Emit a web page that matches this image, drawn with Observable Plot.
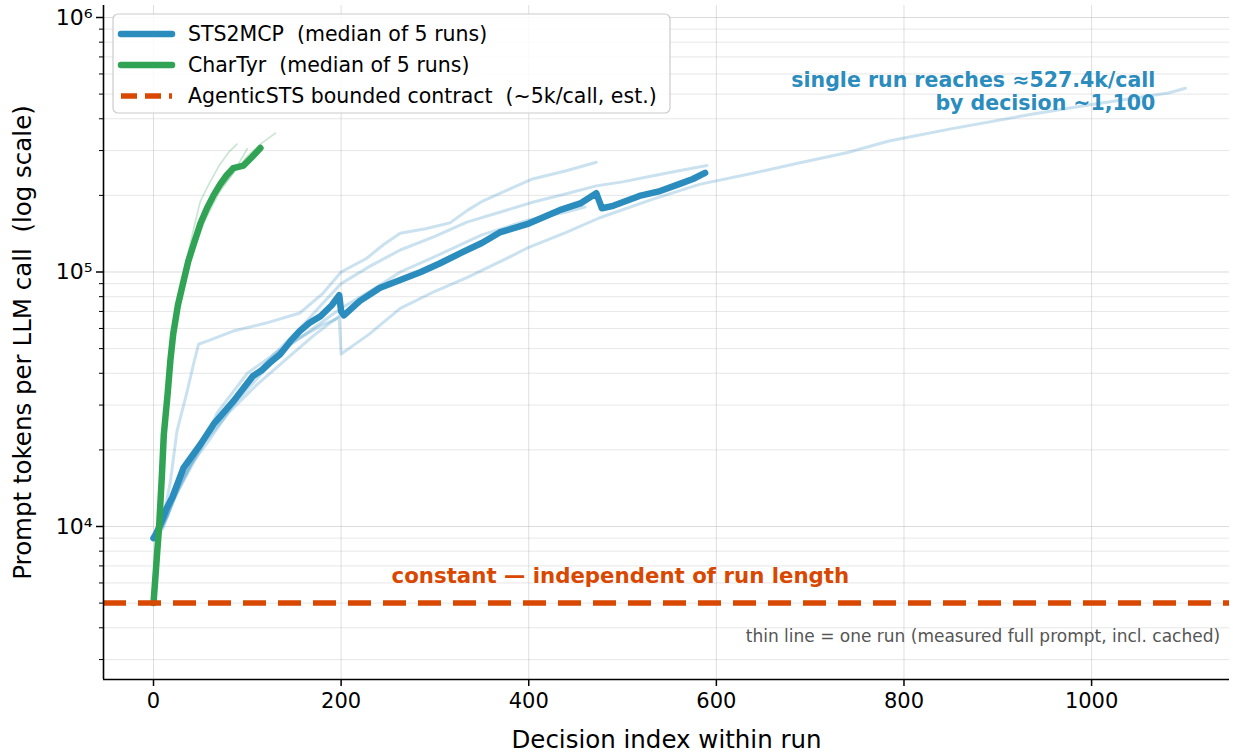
<!DOCTYPE html>
<html>
<head>
<meta charset="utf-8">
<script src="https://cdn.jsdelivr.net/npm/d3@7"></script>
<script src="https://cdn.jsdelivr.net/npm/@observablehq/plot@0.6"></script>
<style>
  html, body { margin: 0; padding: 0; background: #fff; }
  #chart { width: 1233px; height: 753px; overflow: hidden; }
</style>
</head>
<body>
<div id="chart"></div>
<script>
// ---------- data ----------
const xTicks = [0, 200, 400, 600, 800, 1000];
const yMajor = [1e4, 1e5, 1e6];
const yMinor = [3000, 4000, 5000, 6000, 7000, 8000, 9000,
  20000, 30000, 40000, 50000, 60000, 70000, 80000, 90000,
  200000, 300000, 400000, 500000, 600000, 700000, 800000, 900000];
const supers = {4: "⁴", 5: "⁵", 6: "⁶"};

const seriesNames = ["STS2MCP  (median of 5 runs)", "CharTyr  (median of 5 runs)", "AgenticSTS bounded contract  (~5k/call, est.)"];
const agenticValue = 5000;

// STS2MCP median (decision, prompt tokens)
const stsMedian = [[0,9000],[3,9400],[8,10300],[14,11800],[20,13000],[32,17000],[50,21000],[65,25500],[85,31000],[106,39000],[115,41000],[124,44000],[135,47500],[146,53500],[156,58600],[166,63000],[178,67000],[190,74000],[198,81000],[200,70000],[203,67500],[220,77000],[241,86500],[263,93000],[285,100000],[305,108000],[330,120000],[350,130000],[369,143000],[400,155000],[433,175000],[455,186000],[472,204000],[478,178000],[490,182000],[518,199000],[540,208000],[561,222000],[575,232000],[588,245000]];
// CharTyr median
const charMedian = [[0,5000],[2,6300],[4,8000],[6,10000],[9,16000],[11,23000],[15,33000],[18,45000],[21,57000],[26,74000],[32,92000],[37,110000],[43,129000],[50,155000],[57,178000],[64,200000],[71,221000],[78,240000],[85,256000],[96,262000],[105,283000],[114,307000]];

// STS2MCP single runs
const stsRun1 = [[0,9000],[10,10500],[18,15000],[25,23700],[35,33000],[43,44000],[48,52000],[60,54000],[85,58600],[120,63000],[156,69000],[180,82000],[200,100000],[227,113000],[245,128000],[263,142000],[290,148000],[316,156000],[335,175000],[351,190000],[380,212000],[404,232000],[440,250000],[472,270000]];
const stsRun2 = [[0,9000],[15,11000],[30,15500],[50,21000],[70,27000],[100,37000],[130,48000],[156,60000],[180,75000],[200,90000],[230,105000],[263,122000],[300,138000],[334,157000],[370,172000],[404,188000],[440,203000],[472,218000],[500,226000],[530,238000],[560,250000],[590,262000]];
const stsRun3 = [[0,9000],[10,9800],[20,12500],[40,17500],[60,22000],[85,30000],[110,38000],[140,50000],[170,60000],[200,72000],[240,88000],[263,100000],[300,115000],[350,140000],[400,160000],[440,172000],[460,180000]];
const stsRun4 = [[0,9000],[10,10000],[25,13500],[50,20000],[68,28000],[100,40000],[130,48000],[156,55000],[180,62000],[198,66000],[200,47600],[230,57000],[263,72000],[300,84000],[334,95000],[370,110000],[398,124000],[440,143000],[475,163000],[530,192000],[582,221000],[640,245000],[688,268000],[740,295000],[784,327000],[850,365000],[936,417000],[1000,455000],[1050,485000],[1082,505000],[1100,527400]];
const stsRun5 = [[0,9000],[10,10200],[30,15000],[50,20500],[80,28000],[110,36000],[140,45000],[170,56000],[200,68000],[240,84000]];

// CharTyr single runs
const charRun1 = [[0,5000],[3,7000],[6,11000],[10,20000],[15,34000],[20,55000],[28,85000],[36,115000],[45,160000],[50,190000],[60,225000],[70,262000],[80,295000],[89,318000]];
const charRun2 = [[0,5000],[3,6500],[7,11000],[12,22000],[17,38000],[23,60000],[32,90000],[42,120000],[55,160000],[70,205000],[85,245000],[100,285000],[115,320000],[130,351000]];
const charRun3 = [[0,5000],[4,7500],[8,13000],[13,25000],[19,45000],[26,72000],[34,100000],[45,140000],[57,175000],[70,210000],[85,245000],[100,305000]];

// annotations
const noteRun = "single run reaches ≈527.4k/call\nby decision ~1,100";
const noteConst = "constant — independent of run length";
const noteThin = "thin line = one run (measured full prompt, incl. cached)";
const xLabel = "Decision index within run";
const yLabel = "Prompt tokens per LLM call  (log scale)";

// ---------- build tables ----------
const toRows = (arr, run) => arr.map(([x, y]) => ({x, y, run}));
const stsThin = [stsRun1, stsRun2, stsRun3, stsRun4, stsRun5].flatMap((r, i) => toRows(r, "s" + i));
const charThin = [charRun1, charRun2, charRun3].flatMap((r, i) => toRows(r, "c" + i));
const stsMed = toRows(stsMedian, "med");
const charMed = toRows(charMedian, "med");

const BLUE = "#2b8cbe", GREEN = "#31a354", ORANGE = "#d94801";
const X0 = -53.3, X1 = 1147, Y0 = 2505, Y1 = 1.1147e6;

const chart = Plot.plot({
  width: 1233, height: 753,
  marginLeft: 103, marginRight: 4, marginTop: 5, marginBottom: 74,
  style: {fontFamily: "DejaVu Sans, sans-serif", background: "#fff", color: "#000", overflow: "visible"},
  x: {domain: [X0, X1]},
  y: {type: "log", domain: [Y0, Y1]},
  marks: [
    Plot.gridX(xTicks, {stroke: "#b0b0b0", strokeOpacity: 0.4, strokeWidth: 1}),
    Plot.gridY(yMinor, {stroke: "#b0b0b0", strokeOpacity: 0.3, strokeWidth: 1}),
    Plot.gridY(yMajor, {stroke: "#b0b0b0", strokeOpacity: 0.45, strokeWidth: 1}),
    Plot.line(stsThin, {x: "x", y: "y", z: "run", stroke: BLUE, strokeOpacity: 0.25, strokeWidth: 3}),
    Plot.line(charThin, {x: "x", y: "y", z: "run", stroke: GREEN, strokeOpacity: 0.27, strokeWidth: 1.6}),
    Plot.line(stsMed, {x: "x", y: "y", stroke: BLUE, strokeWidth: 6.5, strokeLinecap: "round", strokeLinejoin: "round"}),
    Plot.line(charMed, {x: "x", y: "y", stroke: GREEN, strokeWidth: 6.5, strokeLinecap: "round", strokeLinejoin: "round"}),
    Plot.ruleY([agenticValue], {stroke: ORANGE, strokeWidth: 5.5, strokeDasharray: "23,12"}),
    Plot.text([noteRun], {x: 1068, y: 512000, text: d => d, textAnchor: "end", lineAnchor: "middle", lineHeight: 1.12, fontSize: 20.5, fontWeight: "bold", fill: BLUE}),
    Plot.text([noteConst], {x: 497.7, y: 6362, text: d => d, textAnchor: "middle", fontSize: 21.3, fontWeight: "bold", fill: ORANGE}),
    Plot.text([noteThin], {x: 1137, y: 3697, text: d => d, textAnchor: "end", fontSize: 17, fill: "#555"}),
    Plot.ruleX([X0], {strokeWidth: 1.6, stroke: "#000"}),
    Plot.ruleY([Y0], {strokeWidth: 1.6, stroke: "#000"}),
    Plot.axisX(xTicks, {tickSize: 7, tickPadding: 7, fontSize: 21, strokeWidth: 1.5, label: null, tickFormat: d => String(d)}),
    Plot.axisY(yMajor, {tickSize: 7, tickPadding: 4, fontSize: 22, strokeWidth: 1.5, label: null,
      tickFormat: d => "10" + supers[Math.round(Math.log10(d))]}),
    Plot.axisY(yMinor, {tickSize: 4, strokeWidth: 1, label: null, tickFormat: () => ""}),
    Plot.text([xLabel], {frameAnchor: "bottom", dy: 61, textAnchor: "middle", lineAnchor: "middle", text: d => d, fontSize: 24.5}),
    Plot.text([yLabel], {frameAnchor: "left", dx: -80, rotate: -90, textAnchor: "middle", lineAnchor: "middle", text: d => d, fontSize: 24.5})
  ]
});

// ---------- legend (inside the plot area, upper left) ----------
const svg = d3.select(chart);
const lg = svg.append("g").attr("font-family", "DejaVu Sans, sans-serif").attr("text-anchor", "start");
lg.append("rect").attr("x", 113).attr("y", 14).attr("width", 557).attr("height", 99)
  .attr("rx", 5).attr("fill", "#fff").attr("fill-opacity", 0.85).attr("stroke", "#ccc").attr("stroke-width", 1.2);
const legendItems = [
  {name: seriesNames[0], color: BLUE, dash: null},
  {name: seriesNames[1], color: GREEN, dash: null},
  {name: seriesNames[2], color: ORANGE, dash: "16,8"}
];
legendItems.forEach((it, i) => {
  const cy = 34 + i * 31;
  lg.append("line").attr("x1", 121).attr("x2", 172).attr("y1", cy).attr("y2", cy)
    .attr("stroke", it.color).attr("stroke-width", it.dash ? 5.5 : 6.5)
    .attr("stroke-linecap", it.dash ? "butt" : "round")
    .attr("stroke-dasharray", it.dash);
  lg.append("text").attr("x", 188).attr("y", cy).attr("dy", "0.35em").attr("text-anchor", "start")
    .attr("font-size", 20.5).attr("fill", "#000").text(it.name);
});

document.getElementById("chart").appendChild(chart);
</script>
</body>
</html>
